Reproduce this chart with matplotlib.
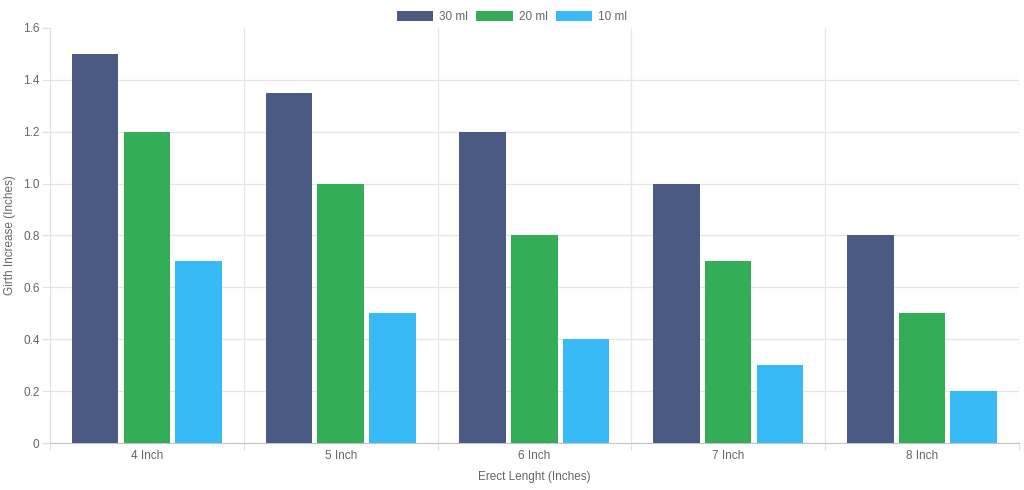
import numpy as np
import matplotlib.pyplot as plt

# Dati
categories = ['4 Inch', '5 Inch', '6 Inch', '7 Inch', '8 Inch']
ml30 = [1.5, 1.35, 1.2, 1.0, 0.8]
ml20 = [1.2, 1.0, 0.8, 0.7, 0.5]
ml10 = [0.7, 0.5, 0.4, 0.3, 0.2]
series_names = ['30 ml', '20 ml', '10 ml']
colors = ['#4b5a83', '#34ad58', '#38baf6']

plt.rcParams['font.family'] = ['Liberation Sans', 'DejaVu Sans']

fig = plt.figure(figsize=(10.24, 4.9), dpi=100)
ax = fig.add_axes([0.0488, 0.0959, 0.9462, 0.8471])

x = np.arange(len(categories))
slot = 0.8 / 3
bw = slot * 0.9
for i, vals in enumerate([ml30, ml20, ml10]):
    ax.bar(x + (i - 1) * slot, vals, width=bw, color=colors[i],
           label=series_names[i], zorder=3)

ax.set_xlim(-0.5, len(categories) - 0.5)
ax.set_ylim(0, 1.6)
ax.set_yticks(np.arange(0, 1.61, 0.2))
ax.set_yticklabels(['0', '0.2', '0.4', '0.6', '0.8', '1.0', '1.2', '1.4', '1.6'])

# tacche ai bordi delle categorie, etichette al centro
ax.set_xticks(np.arange(-0.5, len(categories), 1.0))
ax.set_xticklabels([])
ax.set_xticks(x, minor=True)
ax.set_xticklabels(categories, minor=True)
ax.tick_params(axis='x', which='major', length=5, color='#e0e0e0')
ax.tick_params(axis='x', which='minor', length=0, pad=5)
ax.tick_params(axis='y', length=6, color='#e0e0e0', pad=1.5)
ax.tick_params(which='both', labelsize=8.5, labelcolor='#666666')

ax.grid(True, which='major', color='#e6e6e6', linewidth=0.9, zorder=0)
ax.yaxis.get_gridlines()[-1].set_visible(False)
for s in ['top', 'right']:
    ax.spines[s].set_visible(False)
ax.spines['left'].set_color('#e0e0e0')
ax.spines['bottom'].set_color('#c4c4c4')

ax.set_xlabel('Erect Lenght (Inches)', fontsize=8.5, color='#666666')
ax.set_ylabel('Girth Increase (Inches)', fontsize=8.5, color='#666666')
ax.xaxis.set_label_coords(0.5, -28 / 415)
ax.yaxis.set_label_coords(-34 / 969, 0.5)

fig.legend(loc='upper center', bbox_to_anchor=(0.5, 1.0), ncol=3, frameon=False,
           fontsize=8.5, handlelength=3.1, handleheight=1.0, columnspacing=0.7,
           handletextpad=0.5, labelcolor='#666666')

fig.savefig('out.png', dpi=100)
